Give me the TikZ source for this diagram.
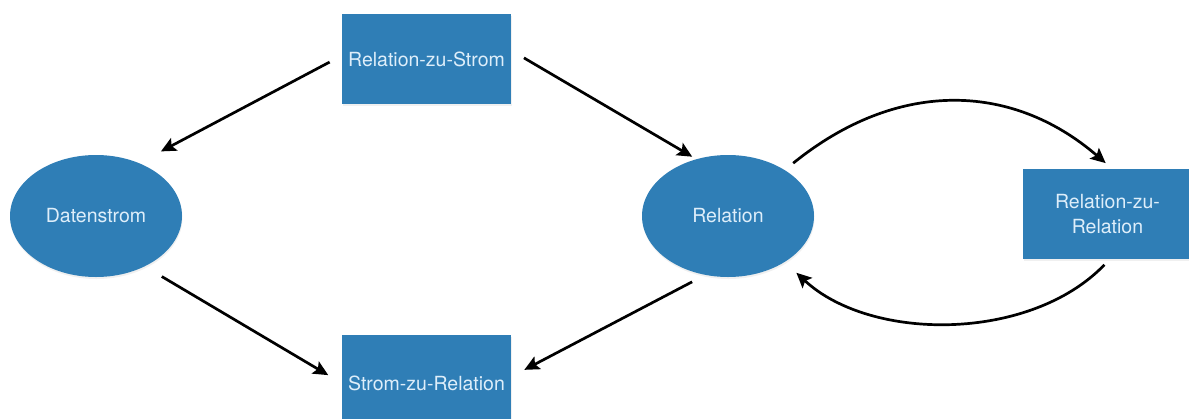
\documentclass[tikz,border=0pt]{standalone}
\usepackage{fontspec}
\setmainfont{TeX Gyre Heros}
\usetikzlibrary{shapes.geometric,arrows.meta,shadows}
\definecolor{nodeblue}{RGB}{47,126,182}
\definecolor{nodetext}{RGB}{222,238,250}
\begin{document}
\begin{tikzpicture}[x=1pt,y=-1pt,
  base/.style={fill=nodeblue,draw=none,text=nodetext,inner sep=0pt,outer sep=0pt,
    font=\fontsize{19.5}{25}\selectfont,align=center,
    drop shadow={opacity=0.12,shadow xshift=0.5pt,shadow yshift=-2pt}},
  procbox/.style={base,rectangle,minimum width=169,minimum height=90},
  dataell/.style={base,ellipse,minimum width=172,minimum height=122},
  arr/.style={draw=black,line width=2.7pt,-{Stealth[length=15pt,width=14pt,inset=3pt]}}]
  \useasboundingbox (0,0) rectangle (1189,418);
  \begin{scope}
    \clip (0,0) rectangle (1189,418);
    % processing steps
    \node[procbox] (rzs) at (426.5,59) {Relation-zu-Strom};
    \node[procbox,minimum height=96] (szr) at (426.5,383) {Strom-zu-Relation};
    \node[procbox] (rzr) at (1107.5,214) {Relation-zu-\\Relation};
    % data kinds
    \node[dataell] (ds) at (96,216) {Datenstrom};
    \node[dataell] (rel) at (728,216) {Relation};
  \end{scope}
  % straight connectors
  \draw[arr,shorten <=14pt,shorten >=25pt] ([yshift=3.5pt]rzs.west) -- (ds.51);
  \draw[arr,shorten <=15pt,shorten >=5pt] ([yshift=8.7pt]rzs.east) -- (rel.119);
  \draw[arr,shorten <=20pt,shorten >=16pt] (ds.-46) -- ([yshift=-0.3pt]szr.west);
  \draw[arr,shorten <=15pt,shorten >=15pt] (rel.249) -- ([yshift=6.2pt]szr.east);
  % loop between Relation and Relation-zu-Relation
  \draw[arr,shorten <=11pt,shorten >=9pt] (rel.39)
    .. controls +(111,-90) and +(-102,-88) .. ([xshift=5pt]rzr.north);
  \draw[arr,shorten <=8pt,shorten >=16pt] ([xshift=2.5pt]rzr.south)
    .. controls +(-80,83) and +(86,80) .. (rel.-39);
\end{tikzpicture}
\end{document}
